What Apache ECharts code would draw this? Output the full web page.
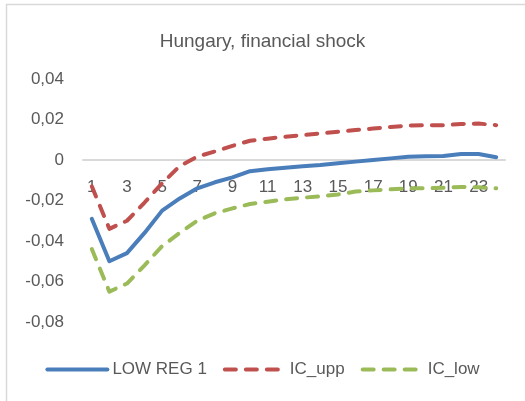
<!DOCTYPE html>
<html>
<head>
<meta charset="utf-8">
<script src="https://cdn.jsdelivr.net/npm/echarts@6/dist/echarts.min.js"></script>
<style>
  html, body { margin: 0; padding: 0; background: #ffffff; }
  #chart { width: 525px; height: 401px; }
</style>
</head>
<body>
<div id="chart"></div>
<script>
// Impulse response horizon (periods)
const periods = ['1','2','3','4','5','6','7','8','9','10','11','12','13','14','15','16','17','18','19','20','21','22','23','24'];

// Point estimate
const lowReg1 = [-0.029, -0.050, -0.046, -0.036, -0.025, -0.019, -0.014, -0.011, -0.0086, -0.0055,
                 -0.0046, -0.0038, -0.0031, -0.0025, -0.0016, -0.0008, 0.0, 0.0008, 0.0016, 0.0018,
                 0.0020, 0.0030, 0.0030, 0.0014];

// Upper confidence band
const icUpp = [-0.013, -0.034, -0.030, -0.021, -0.0115, -0.003, 0.0017, 0.0042, 0.0070, 0.0095,
               0.0105, 0.0115, 0.0123, 0.0131, 0.0140, 0.0148, 0.0155, 0.0163, 0.0170, 0.0172,
               0.0172, 0.0178, 0.0180, 0.0172];

// Lower confidence band
const icLow = [-0.044, -0.065, -0.061, -0.052, -0.0425, -0.036, -0.030, -0.0263, -0.0239, -0.0217,
               -0.0206, -0.0194, -0.0186, -0.0180, -0.0170, -0.0156, -0.0150, -0.0145, -0.0140, -0.0140,
               -0.0137, -0.0133, -0.0135, -0.0140];

const textColor = '#595959';
const fontFamily = '"Liberation Sans", Arial, sans-serif';

// Plot area geometry (pixels)
const gridTop = 79;
const gridBottom = 79;
const chartHeight = 401;
const yMin = -0.08;
const yMax = 0.04;
// Shift the category axis up so it sits on the zero line
const zeroOffset = -((chartHeight - gridTop - gridBottom) * (0 - yMin) / (yMax - yMin));

const chart = echarts.init(document.getElementById('chart'), null, { renderer: 'canvas' });

chart.setOption({
  animation: false,
  backgroundColor: '#ffffff',
  textStyle: { fontFamily: fontFamily, color: textColor },
  graphic: [
    { type: 'line', shape: { x1: 6, y1: 4.5, x2: 525, y2: 4.5 }, style: { stroke: '#d9d9d9', lineWidth: 1.5 }, silent: true },
    { type: 'line', shape: { x1: 6.5, y1: 4, x2: 6.5, y2: 401 }, style: { stroke: '#d9d9d9', lineWidth: 1.5 }, silent: true }
  ],
  title: {
    text: 'Hungary, financial shock',
    left: 'center',
    top: 27,
    textStyle: { fontFamily: fontFamily, fontSize: 19, fontWeight: 'normal', color: textColor }
  },
  legend: {
    bottom: 18,
    left: 'center',
    itemWidth: 60,
    itemHeight: 14,
    itemGap: 16,
    itemStyle: { opacity: 0 },
    lineStyle: { width: 4, cap: 'round' },
    textStyle: { fontFamily: fontFamily, fontSize: 17, color: textColor },
    data: ['LOW REG 1', 'IC_upp', 'IC_low']
  },
  grid: { left: 83, right: 20, top: gridTop, bottom: gridBottom, containLabel: false },
  xAxis: {
    type: 'category',
    data: periods,
    boundaryGap: true,
    position: 'bottom',
    offset: zeroOffset,
    axisLine: { onZero: false, lineStyle: { color: '#d9d9d9', width: 2 } },
    axisTick: { show: false },
    axisLabel: { interval: 1, margin: 19, fontSize: 17, color: textColor, fontFamily: fontFamily },
    splitLine: { show: false }
  },
  yAxis: {
    type: 'value',
    min: yMin,
    max: yMax,
    interval: 0.02,
    axisLine: { show: false },
    axisTick: { show: false },
    splitLine: { show: false },
    axisLabel: {
      margin: 19,
      fontSize: 17,
      color: textColor,
      fontFamily: fontFamily,
      formatter: function (v) {
        if (Math.abs(v) < 1e-9) return '0';
        return v.toFixed(2).replace('.', ',');
      }
    }
  },
  series: [
    {
      name: 'LOW REG 1',
      type: 'line',
      data: lowReg1,
      symbol: 'none',
      smooth: false,
      lineStyle: { color: '#4a7ebb', width: 4, cap: 'round', join: 'round' },
      itemStyle: { color: '#4a7ebb' },
      z: 3
    },
    {
      name: 'IC_upp',
      type: 'line',
      data: icUpp,
      symbol: 'none',
      lineStyle: { color: '#c0504d', width: 4, type: [11, 10], cap: 'round', join: 'round' },
      itemStyle: { color: '#c0504d' },
      z: 2
    },
    {
      name: 'IC_low',
      type: 'line',
      data: icLow,
      symbol: 'none',
      lineStyle: { color: '#9bbb59', width: 4, type: [11, 10], cap: 'round', join: 'round' },
      itemStyle: { color: '#9bbb59' },
      z: 2
    }
  ]
});
</script>
</body>
</html>
